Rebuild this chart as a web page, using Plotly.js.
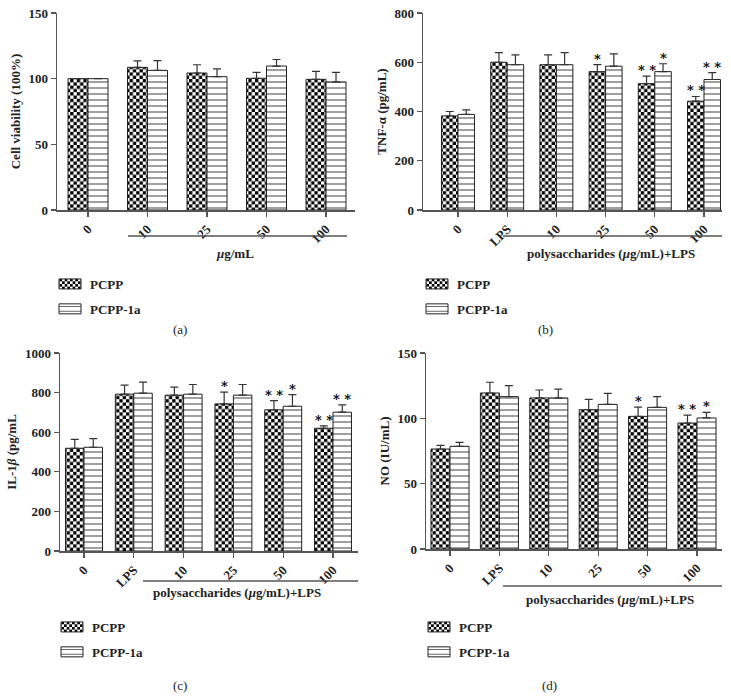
<!DOCTYPE html>
<html>
<head>
<meta charset="utf-8">
<script src="https://cdn.plot.ly/plotly-3.0.1.min.js"></script>
<style>html,body{margin:0;padding:0;background:#fff;}#chart{width:731px;height:697px;}</style>
</head>
<body>
<div id="chart"></div>
<script>
// ---------- data ----------
const catsA = ['0', '10', '25', '50', '100'];
const catsB = ['0', 'LPS', '10', '25', '50', '100'];
const seriesNames = ['PCPP', 'PCPP-1a'];

// (a) Cell viability (100%)
const aPCPP = [100, 108.6, 104.3, 100.3, 99.5];
const aPCPPerr = [0, 5, 6.3, 4.5, 6];
const a1a = [100, 106.3, 101.5, 109.6, 97.5];
const a1aErr = [0, 7.4, 6, 5, 7.3];

// (b) TNF-α (pg/mL)
const bPCPP = [382, 600, 590, 562, 513, 442];
const bPCPPerr = [18, 39, 40, 28, 31, 19];
const b1a = [388, 590, 590, 584, 562, 530];
const b1aErr = [19, 40, 49, 50, 32, 28];
const bStarsPCPP = ['', '', '', '*', '**', '**'];
const bStars1a = ['', '', '', '', '*', '**'];

// (c) IL-1β (pg/mL)
const cPCPP = [519, 792, 787, 743, 713, 620];
const cPCPPerr = [45, 46, 41, 59, 46, 12];
const c1a = [524, 797, 792, 787, 731, 701];
const c1aErr = [44, 56, 49, 54, 59, 37];
const cStarsPCPP = ['', '', '', '*', '**', '**'];
const cStars1a = ['', '', '', '', '*', '**'];

// (d) NO (IU/mL)
const dPCPP = [76.5, 119.4, 115.6, 106.6, 101.5, 96.4];
const dPCPPerr = [2.8, 8.2, 6.1, 7.9, 7.1, 6.1];
const d1a = [78.6, 116.6, 115.6, 110.7, 108.4, 100.3];
const d1aErr = [3, 8.4, 6.8, 8.4, 8.2, 4.3];
const dStarsPCPP = ['', '', '', '', '*', '**'];
const dStars1a = ['', '', '', '', '', '*'];

// ---------- layout helpers ----------
const W = 731, H = 697;
const X = px => px / W;
const Y = py => 1 - py / H;
const FONT = 'Liberation Serif, Times New Roman, serif';
const AX = '#555';

const panels = [
  {id: '', cats: catsA, v: [aPCPP, a1a], e: [aPCPPerr, a1aErr], s: [null, null],
   dom: [57, 355, 13, 210], xr: [-0.521, 4.487], yr: [0, 150], dt: 50, bw: 0.336,
   ytitle: 'Cell viability (100%)', xlabel: '<i>μ</i>g/mL', lab: [235, 253],
   line: [128, 347, 236], leg: [50, 269], tag: '(a)', tagpos: [180, 330]},
  {id: '2', cats: catsB, v: [bPCPP, b1a], e: [bPCPPerr, b1aErr], s: [bStarsPCPP, bStars1a],
   dom: [423, 722, 13, 210], xr: [-0.711, 5.366], yr: [0, 800], dt: 200, bw: 0.335,
   ytitle: 'TNF-α (pg/mL)', xlabel: 'polysaccharides (<i>μ</i>g/mL)+LPS', lab: [611, 253],
   line: [503, 722, 236], leg: [417, 269], tag: '(b)', tagpos: [545, 330]},
  {id: '3', cats: catsB, v: [cPCPP, c1a], e: [cPCPPerr, c1aErr], s: [cStarsPCPP, cStars1a],
   dom: [60, 358, 353, 551], xr: [-0.482, 5.502], yr: [0, 1000], dt: 200, bw: 0.371,
   ytitle: 'IL-1<i>β</i> (pg/mL', xlabel: 'polysaccharides (<i>μ</i>g/mL)+LPS', lab: [237, 592],
   line: [143, 358, 581], leg: [52, 612], tag: '(c)', tagpos: [180, 685]},
  {id: '4', cats: catsB, v: [dPCPP, d1a], e: [dPCPPerr, d1aErr], s: [dStarsPCPP, dStars1a],
   dom: [426, 722, 353, 549], xr: [-0.486, 5.506], yr: [0, 150], dt: 50, bw: 0.385,
   ytitle: 'NO (IU/mL)', xlabel: 'polysaccharides (<i>μ</i>g/mL)+LPS', lab: [610, 599],
   line: [503, 722, 586], leg: [419, 612], tag: '(d)', tagpos: [549, 685]}
];

const traces = [];
const layout = {
  width: W, height: H, margin: {l: 0, r: 0, t: 0, b: 0},
  paper_bgcolor: '#fff', plot_bgcolor: 'rgba(0,0,0,0)',
  barmode: 'overlay', showlegend: true,
  font: {family: FONT, color: '#222'},
  annotations: [], shapes: []
};

panels.forEach((p, pi) => {
  const xa = 'x' + p.id, ya = 'y' + p.id;
  const legName = 'legend' + p.id;
  for (let k = 0; k < 2; k++) {
    const off = k === 0 ? -p.bw : 0;
    traces.push({
      type: 'bar', name: seriesNames[k], x: p.cats, y: p.v[k],
      xaxis: xa, yaxis: ya, legend: legName, legendgroup: 'g' + pi + k,
      width: p.bw, offset: off,
      marker: {
        color: '#fff',
        line: {color: '#222', width: 1},
        pattern: k === 0
          ? {shape: 'x', fgcolor: '#010101', bgcolor: '#fff', size: 5, solidity: 0.45}
          : {shape: '-', fgcolor: '#444', bgcolor: '#fff', size: 6, solidity: 0.17}
      },
      error_y: {type: 'data', symmetric: false, array: p.e[k],
                arrayminus: p.e[k].map(() => 0), color: '#333', thickness: 1.2, width: 4},
      hoverinfo: 'skip'
    });
    if (p.s[k]) {
      p.s[k].forEach((st, i) => {
        if (!st) return;
        layout.annotations.push({
          xref: xa, yref: ya, x: i + off + p.bw / 2, y: p.v[k][i] + p.e[k][i],
          text: st.split('').join(' '), showarrow: false, yanchor: 'bottom', yshift: -4,
          font: {family: 'DejaVu Serif, serif', size: 13, weight: 'bold', color: '#000'}
        });
      });
    }
  }
  const xKey = 'xaxis' + p.id, yKey = 'yaxis' + p.id;
  layout[xKey] = {
    domain: [X(p.dom[0]), X(p.dom[1])], range: p.xr, type: 'category', anchor: ya,
    showline: true, linecolor: AX, linewidth: 1.5, ticks: 'outside', ticklen: 5,
    tickcolor: AX, tickwidth: 1.2, tickangle: -45, showgrid: false, zeroline: false,
    tickfont: {family: FONT, size: 13, weight: 'bold', color: '#222'}, fixedrange: true
  };
  layout[yKey] = {
    domain: [Y(p.dom[3]), Y(p.dom[2])], range: p.yr, dtick: p.dt, anchor: xa,
    showline: true, linecolor: AX, linewidth: 1.5, ticks: 'outside', ticklen: 5,
    tickcolor: AX, tickwidth: 1.2, showgrid: false, zeroline: false,
    tickfont: {family: FONT, size: 13, weight: 'bold', color: '#222'},
    title: {text: p.ytitle, font: {family: FONT, size: 13, weight: 'bold', color: '#222'}, standoff: 5},
    fixedrange: true
  };
  layout[legName] = {
    x: X(p.leg[0]), y: Y(p.leg[1]), xanchor: 'left', yanchor: 'top', xref: 'paper', yref: 'paper',
    bgcolor: 'rgba(0,0,0,0)', traceorder: 'grouped', tracegroupgap: 5,
    font: {family: FONT, size: 13, weight: 'bold', color: '#222'}
  };
  layout.shapes.push({type: 'line', xref: 'paper', yref: 'paper',
    x0: X(p.line[0]), x1: X(p.line[1]), y0: Y(p.line[2]), y1: Y(p.line[2]),
    line: {color: AX, width: 1.3}});
  layout.annotations.push({xref: 'paper', yref: 'paper', x: X(p.lab[0]), y: Y(p.lab[1]),
    text: p.xlabel, showarrow: false, xanchor: 'center', yanchor: 'middle',
    font: {family: FONT, size: 13, weight: 'bold', color: '#222'}});
  layout.annotations.push({xref: 'paper', yref: 'paper', x: X(p.tagpos[0]), y: Y(p.tagpos[1]),
    text: p.tag, showarrow: false, xanchor: 'center', yanchor: 'middle',
    font: {family: FONT, size: 13, color: '#222'}});
});

// turn the PCPP pattern into a checkerboard, and widen the legend swatches
function restyle(gd) {
  const ns = 'http://www.w3.org/2000/svg';
  gd.querySelectorAll('pattern').forEach(pt => {
    const html = pt.innerHTML;
    if (!(html.indexOf('1, 1, 1') >= 0 || html.indexOf('010101') >= 0)) return;
    const s = 6.6;
    pt.setAttribute('width', s); pt.setAttribute('height', s);
    while (pt.firstChild) pt.removeChild(pt.firstChild);
    const bg = document.createElementNS(ns, 'rect');
    bg.setAttribute('width', s); bg.setAttribute('height', s); bg.setAttribute('fill', '#fff');
    pt.appendChild(bg);
    [[0, 0], [s / 2, s / 2]].forEach(([x, y]) => {
      const r = document.createElementNS(ns, 'rect');
      r.setAttribute('x', x); r.setAttribute('y', y);
      r.setAttribute('width', s / 2); r.setAttribute('height', s / 2);
      r.setAttribute('fill', '#000');
      pt.appendChild(r);
    });
  });
  gd.querySelectorAll('.legendpoints path').forEach(el => {
    el.setAttribute('d', 'M11,5H-11V-5H11Z');
  });
}

const gd = document.getElementById('chart');
Plotly.newPlot(gd, traces, layout, {displayModeBar: false, staticPlot: true}).then(() => restyle(gd));
</script>
</body>
</html>
